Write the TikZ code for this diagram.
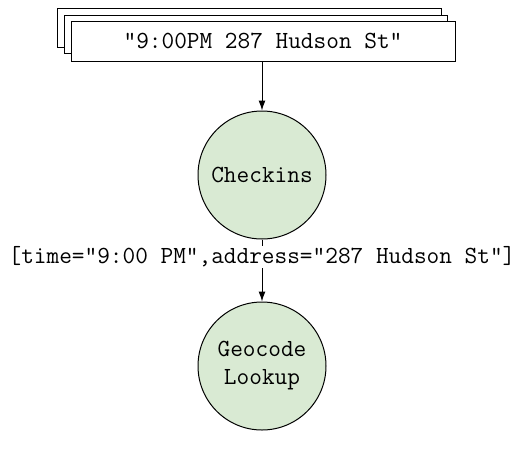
\documentclass[tikz,border=0pt]{standalone}
\usepackage{fontspec}
\usetikzlibrary{arrows.meta}
\definecolor{procfill}{HTML}{D9EAD3}
\newcommand{\ttbig}{\ttfamily\fontsize{24.6}{28}\selectfont}
\tikzset{
  doc/.style={draw=black, fill=white, line width=1pt, minimum width=384pt, minimum height=40pt, inner sep=0pt},
  proc/.style={circle, draw=black, fill=procfill, line width=1pt, minimum size=128pt, inner sep=0pt, align=center, font=\ttbig},
  conn/.style={line width=1pt, -{Latex[length=10pt,width=7pt]}},
  lbl/.style={fill=white, inner sep=1pt, font=\ttbig}
}
\begin{document}
\begin{tikzpicture}[x=1pt,y=-1pt]
\useasboundingbox (0,0) rectangle (519,461);
\node[doc, minimum width=384pt, minimum height=39pt] (d3) at (249,27.5) {};
\node[doc, minimum width=383pt, minimum height=38pt] (d2) at (255.5,34) {};
\node[doc, font=\ttbig] (d1) at (263,41) {"9:00PM 287 Hudson St"};
\node[proc] (chk) at (262,175) {Checkins};
\node[proc] (geo) at (262,366) {Geocode\\Lookup};
\draw[conn] (d1.south -| chk) -- (chk.north);
\draw[conn] (chk) -- (geo);
\node[lbl] (l) at (262,257) {[time="9:00 PM",address="287 Hudson St"]};
\end{tikzpicture}
\end{document}
